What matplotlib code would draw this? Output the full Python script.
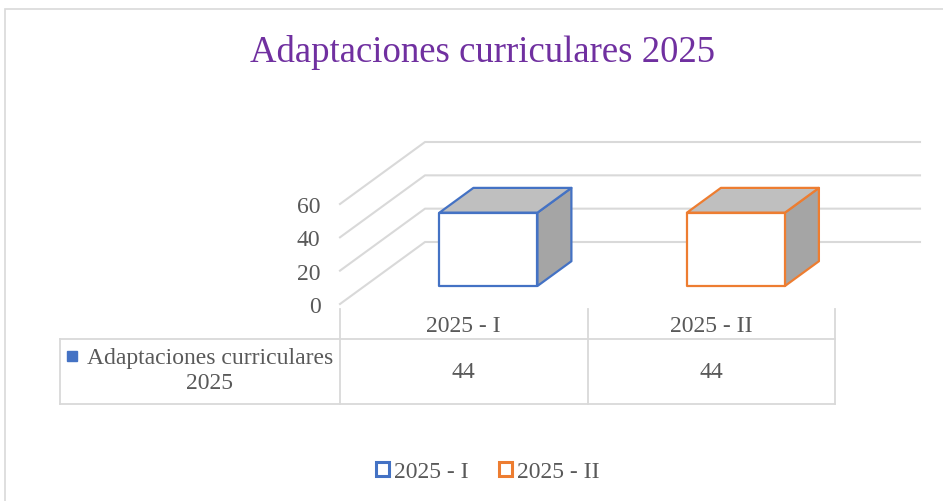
import matplotlib.pyplot as plt
from matplotlib.patches import Patch, Polygon, Rectangle
from matplotlib.lines import Line2D

categories = ["2025 - I", "2025 - II"]
values = [44, 44]
series_name = "Adaptaciones curriculares\n2025"
y_ticks = [0, 20, 40, 60]
title = "Adaptaciones curriculares 2025"

colors = ["#4472C4", "#ED7D31"]
grid_color = "#D9D9D9"
text_color = "#595959"
font = "Liberation Serif"
fs = 17

W, H = 943, 502
fig = plt.figure(figsize=(W / 100, H / 100), dpi=100)


def px_box(x0, y0, x1, y1):
    # pixel box (top-left origin) -> figure fraction rect
    return [x0 / W, 1 - y1 / H, (x1 - x0) / W, (y1 - y0) / H]


# chart border
fig.patches.append(Rectangle((5 / W, -0.1), 1.2, 1 - 10 / H + 0.1, transform=fig.transFigure,
                             fill=False, edgecolor=grid_color, linewidth=1.2))

fig.text(483 / W, 1 - 52 / H, title, ha="center", va="center", color="#7030A0",
         fontsize=26.5, family=font)

# plot area: x in categories, y in values, depth as oblique offset
ax = fig.add_axes(px_box(340, 205, 835, 305))
n = len(categories)
ax.set_xlim(0, n)
ax.set_ylim(0, 60)
DX = 85 / (495 / n)       # depth shift in category units
DY = 62 / (100 / 60)      # depth shift in value units

for t in y_ticks:
    ax.plot([0, DX, n + DX], [t, t + DY, t + DY], color=grid_color, linewidth=1.5,
            clip_on=False, zorder=1)

ax.set_yticks(y_ticks)
ax.set_yticklabels([str(t) for t in y_ticks], fontsize=fs, family=font, color=text_color)
ax.tick_params(axis="y", length=0, pad=14)
ax.set_xticks([])
for s in ax.spines.values():
    s.set_visible(False)
ax.patch.set_alpha(0)

bw = 0.396
d0, d1 = 0.29, 0.69
for i, (v, c) in enumerate(zip(values, colors)):
    xc = i + 0.5
    l, r = xc - bw / 2, xc + bw / 2
    fx, fy = DX * d0, DY * d0
    bx, by = DX * d1, DY * d1
    front = [(l + fx, fy), (r + fx, fy), (r + fx, v + fy), (l + fx, v + fy)]
    top = [(l + fx, v + fy), (r + fx, v + fy), (r + bx, v + by), (l + bx, v + by)]
    side = [(r + fx, fy), (r + bx, by), (r + bx, v + by), (r + fx, v + fy)]
    for poly, fc in [(side, "#A5A5A5"), (top, "#BFBFBF"), (front, "white")]:
        ax.add_patch(Polygon(poly, closed=True, facecolor=fc, edgecolor=c, linewidth=1.6,
                             joinstyle="round", clip_on=False, zorder=3))

# data table
tab = fig.add_axes(px_box(60, 305, 835, 405))
label_w = 280 / (495 / n)
tab.set_xlim(-label_w, n)
tab.set_ylim(100, 0)
tab.axis("off")
row_split = 35
for k in range(n + 1):
    tab.plot([k, k], [5, 100], color=grid_color, linewidth=1.3, clip_on=False)
tab.plot([-label_w, n], [row_split, row_split], color=grid_color, linewidth=1.3, clip_on=False)
tab.plot([-label_w, n], [100, 100], color=grid_color, linewidth=1.3, clip_on=False)
tab.plot([-label_w, -label_w], [row_split, 100], color=grid_color, linewidth=1.3, clip_on=False)
for k, (cat, v) in enumerate(zip(categories, values)):
    tab.text(k + 0.5, 22, cat, ha="center", va="center", fontsize=fs, family=font, color=text_color)
    tab.text(k + 0.5, 68, str(v), ha="center", va="center", fontsize=fs, family=font, color=text_color)
tab.text(-label_w / 2 + 0.04, 66, series_name, ha="center", va="center",
         fontsize=fs, family=font, color=text_color, linespacing=1.2)
tab.add_line(Line2D([-label_w + 0.048], [52], marker="s", markersize=7, color=colors[0],
                    linestyle="none"))

handles = [Patch(facecolor="white", edgecolor=c, linewidth=2.2, label=cat)
           for c, cat in zip(colors, categories)]
fig.legend(handles=handles, loc="center", bbox_to_anchor=(488 / W, 1 - 473 / H), ncol=n,
           frameon=False, handlelength=0.55, handleheight=0.55, handletextpad=0.2,
           columnspacing=1.3, prop={"family": font, "size": fs}, labelcolor=text_color)

fig.savefig("out.png", dpi=100)
